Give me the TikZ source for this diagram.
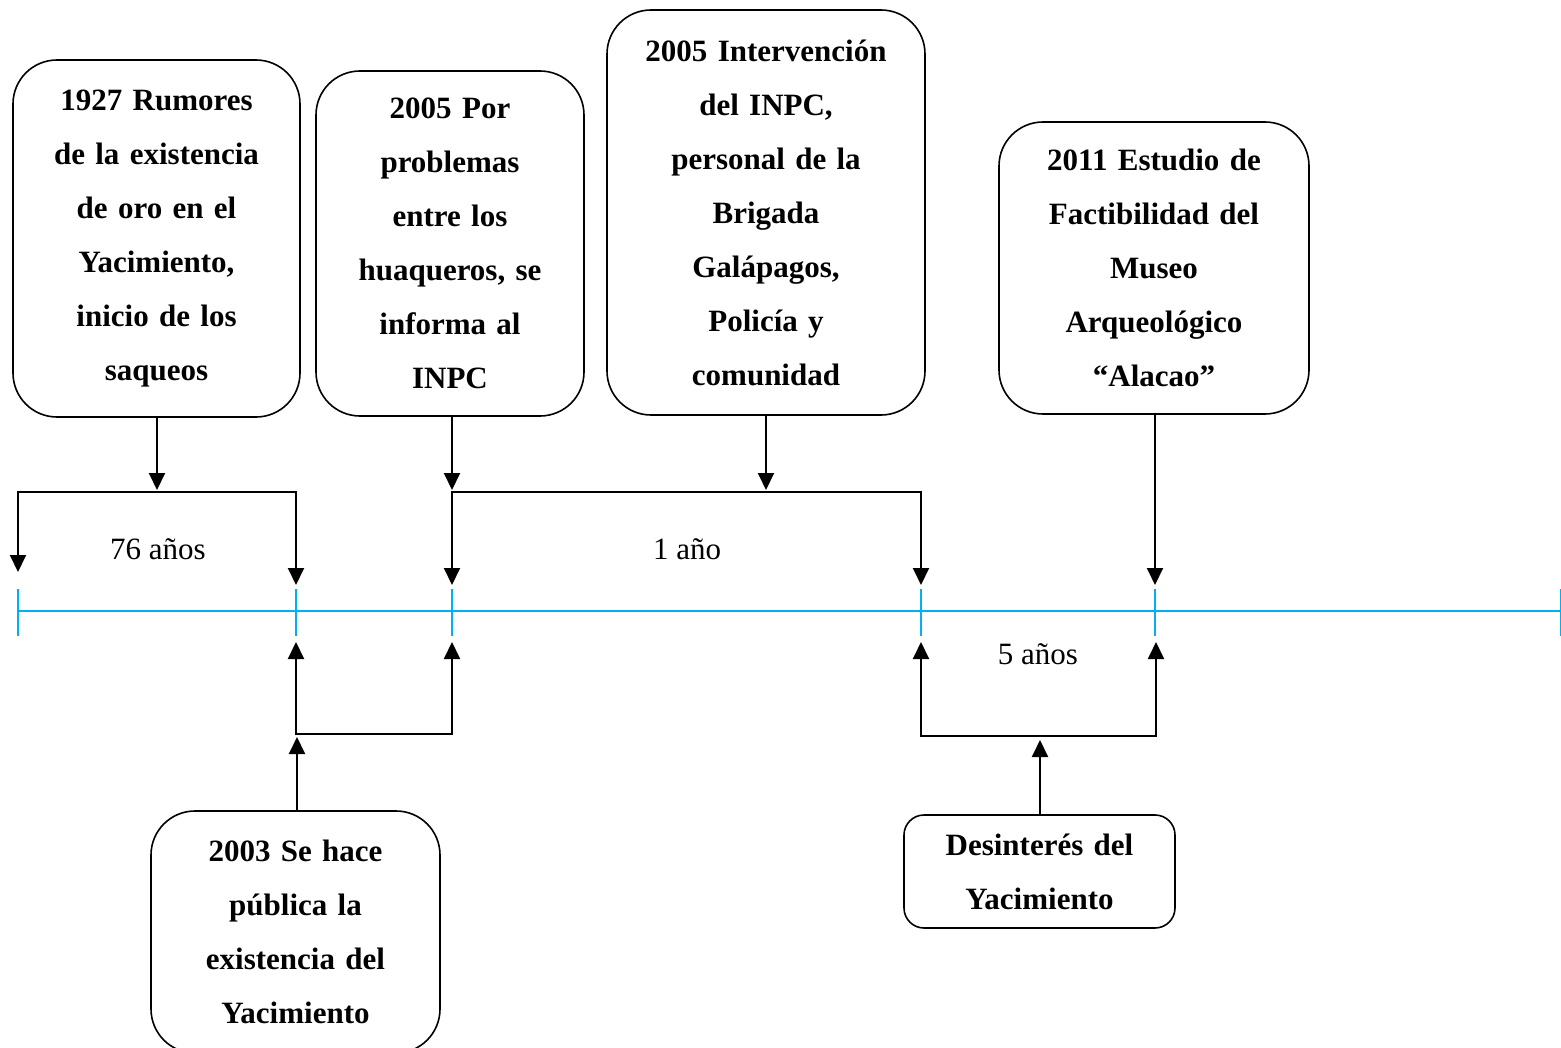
\documentclass[tikz,border=0pt]{standalone}
\usepackage{fontspec}
\setmainfont{Liberation Serif}
\usetikzlibrary{arrows.meta}
\tikzset{
  evbox/.style={draw=black, line width=1.6pt, rounded corners=44pt, align=center,
    font=\fontsize{31}{54}\selectfont\bfseries, inner sep=0pt},
  conn/.style={draw=black, line width=2pt, -{Triangle[length=17pt,width=16pt]}},
  connboth/.style={draw=black, line width=2pt, {Triangle[length=17pt,width=16pt]}-{Triangle[length=17pt,width=16pt]}},
  timeline/.style={draw={rgb,255:red,0;green,176;blue,240}, line width=2.6pt},
  lbl/.style={font=\fontsize{31}{36}\selectfont, inner sep=0pt}
}
\begin{document}
\begin{tikzpicture}[x=1pt,y=-1pt]
\useasboundingbox (0,0) rectangle (1561,1048);
% boxes
\node[evbox, minimum width=287pt, minimum height=357pt, text width=280pt] (b1) at (156.5,238.5)
  {1927 Rumores\\de la existencia\\de oro en el\\Yacimiento,\\inicio de los\\saqueos};
\node[evbox, minimum width=268pt, minimum height=345pt, text width=260pt] (b2) at (450,243.5)
  {2005 Por\\problemas\\entre los\\huaqueros, se\\informa al\\INPC};
\node[evbox, minimum width=318pt, minimum height=405pt, text width=310pt] (b3) at (766,212.5)
  {2005 Intervención\\del INPC,\\personal de la\\Brigada\\Galápagos,\\Policía y\\comunidad};
\node[evbox, minimum width=310pt, minimum height=292pt, text width=300pt] (b4) at (1154,268)
  {2011 Estudio de\\Factibilidad del\\Museo\\Arqueológico\\“Alacao”};
\node[evbox, minimum width=289pt, minimum height=242pt, text width=280pt] (b5) at (295.5,932)
  {2003 Se hace\\pública la\\existencia del\\Yacimiento};
\node[evbox, rounded corners=20pt, minimum width=271pt, minimum height=113pt, text width=265pt] (b6) at (1039.5,871.5)
  {Desinterés del\\Yacimiento};
% timeline
\coordinate (t0) at (18,611);
\coordinate (t1) at (296,611);
\coordinate (t2) at (452,611);
\coordinate (t3) at (921,611);
\coordinate (t4) at (1155,611);
\coordinate (tend) at (1561,611);
\draw[timeline] (t0) -- (tend);
\foreach \p in {t0,t1,t2,t3,t4,tend}{
  \draw[timeline] ([yshift=22pt]\p) -- ([yshift=-25pt]\p);
}
% upper brackets
\coordinate (u1a) at (18,572);
\coordinate (u1b) at (18,492);
\coordinate (u1c) at (296,492);
\coordinate (u1d) at (296,585);
\coordinate (m1) at (157,490);
\draw[conn] (b1.south -| m1) -- (m1);
\draw[connboth] (u1a) -- (u1b) -- (u1c) -- (u1d);
\coordinate (u2a) at (452,585);
\coordinate (u2b) at (452,492);
\coordinate (u2c) at (921,492);
\coordinate (u2d) at (921,585);
\coordinate (m2) at (452,490);
\coordinate (m3) at (766,490);
\draw[conn] (b2.south -| m2) -- (m2);
\draw[conn] (b3.south -| m3) -- (m3);
\draw[connboth] (u2a) -- (u2b) -- (u2c) -- (u2d);
\coordinate (m4) at (1155,585);
\draw[conn] (b4.south -| m4) -- (m4);
% lower brackets
\coordinate (l1a) at (296,642);
\coordinate (l1b) at (296,734);
\coordinate (l1c) at (452,734);
\coordinate (l1d) at (452,642);
\coordinate (m5) at (297,737);
\draw[connboth] (l1a) -- (l1b) -- (l1c) -- (l1d);
\draw[conn] (b5.north -| m5) -- (m5);
\coordinate (l2a) at (921,642);
\coordinate (l2b) at (921,736);
\coordinate (l2c) at (1156,736);
\coordinate (l2d) at (1156,642);
\coordinate (m6) at (1040,740);
\draw[connboth] (l2a) -- (l2b) -- (l2c) -- (l2d);
\draw[conn] (b6.north -| m6) -- (m6);
% labels
\node[lbl] (lab1) at (158,549) {76 años};
\node[lbl] (lab2) at (687,549) {1 año};
\node[lbl] (lab3) at (1038,654) {5 años};
\end{tikzpicture}
\end{document}
